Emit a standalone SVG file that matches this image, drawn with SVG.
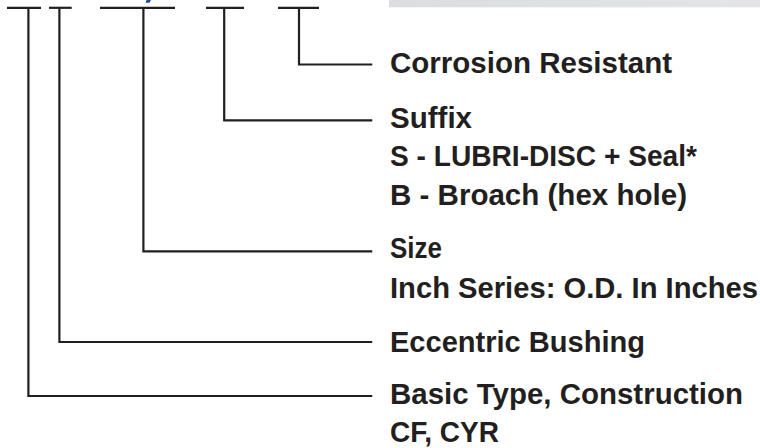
<svg xmlns="http://www.w3.org/2000/svg" width="760" height="448" viewBox="0 0 760 448">
<defs>
<linearGradient id="bar" x1="0" y1="0" x2="1" y2="0">
<stop offset="0" stop-color="#dcdde0"/>
<stop offset="0.5" stop-color="#dde1e5"/>
<stop offset="1" stop-color="#e5e5e7"/>
</linearGradient>
<style>
.ln{fill:none;stroke:#231f20;stroke-width:2.2;stroke-linejoin:miter;stroke-linecap:butt}
.t{font-family:"Liberation Sans",Arial,sans-serif;font-weight:bold;font-size:29px;fill:#231f20}
</style>
</defs>
<rect width="760" height="448" fill="#ffffff"/>
<rect x="389" y="0" width="371" height="7.3" fill="url(#bar)"/>
<polygon points="146.5,0 151,0 149.5,2.7 145.5,2.7" fill="#1f4e8c"/>
<g id="connectors">
<line class="ln" x1="7" y1="7.8" x2="41" y2="7.8"/>
<line class="ln" x1="49" y1="7.8" x2="71.7" y2="7.8"/>
<line class="ln" x1="100" y1="7.8" x2="175" y2="7.8"/>
<line class="ln" x1="206" y1="7.8" x2="244" y2="7.8"/>
<line class="ln" x1="278" y1="7.8" x2="319" y2="7.8"/>
<polyline class="ln" points="299,7.8 299,64.5 372.3,64.5"/>
<polyline class="ln" points="224.2,7.8 224.2,120.3 372.3,120.3"/>
<polyline class="ln" points="143.4,7.8 143.4,251.3 372.3,251.3"/>
<polyline class="ln" points="59.4,7.8 59.4,342 372.3,342"/>
<polyline class="ln" points="28.4,7.8 28.4,396 372.3,396"/>
</g>
<g id="corrosion">
<text class="t" x="390" y="73.3" textLength="282" lengthAdjust="spacingAndGlyphs">Corrosion Resistant</text>
</g>
<g id="suffix">
<text class="t" x="390" y="127.5" textLength="82" lengthAdjust="spacingAndGlyphs">Suffix</text>
<text class="t" x="390" y="166" textLength="307" lengthAdjust="spacingAndGlyphs">S - LUBRI-DISC + Seal*</text>
<text class="t" x="390" y="205" textLength="297" lengthAdjust="spacingAndGlyphs">B - Broach (hex hole)</text>
</g>
<g id="size">
<text class="t" x="390" y="257.5" textLength="52" lengthAdjust="spacingAndGlyphs">Size</text>
<text class="t" x="390" y="298" textLength="368" lengthAdjust="spacingAndGlyphs">Inch Series: O.D. In Inches</text>
</g>
<g id="eccentric">
<text class="t" x="390" y="351.5" textLength="255" lengthAdjust="spacingAndGlyphs">Eccentric Bushing</text>
</g>
<g id="basic">
<text class="t" x="390" y="404" textLength="353" lengthAdjust="spacingAndGlyphs">Basic Type, Construction</text>
<text class="t" x="390" y="441.7" textLength="109" lengthAdjust="spacingAndGlyphs">CF, CYR</text>
</g>
</svg>
